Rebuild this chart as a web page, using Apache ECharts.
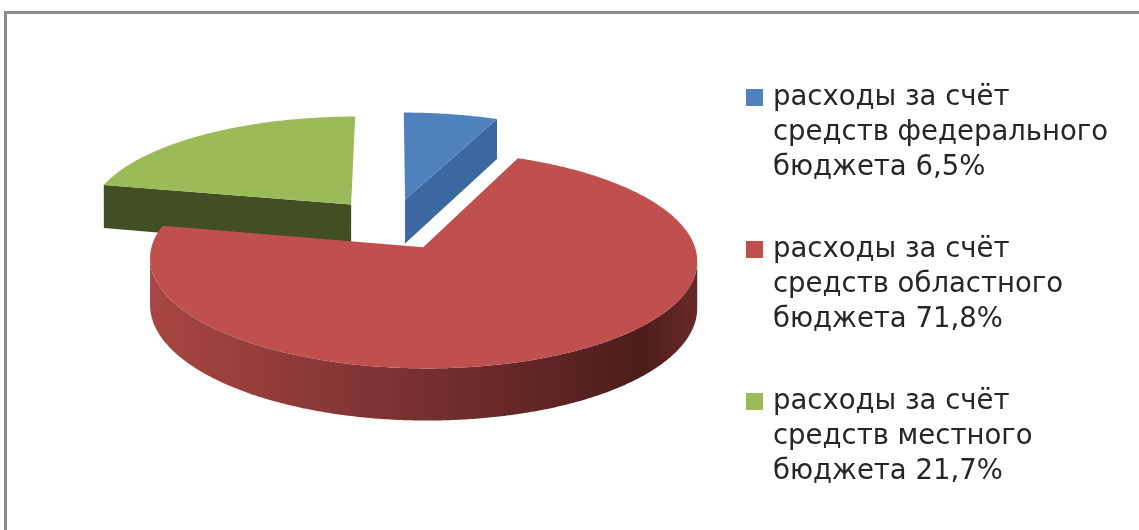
<!DOCTYPE html>
<html>
<head>
<meta charset="utf-8">
<script src="https://cdn.jsdelivr.net/npm/echarts@6/dist/echarts.min.js"></script>
<style>
html, body { margin: 0; padding: 0; background: #fff; }
#main { width: 1139px; height: 530px; }
</style>
</head>
<body>
<div id="main"></div>
<script>
// данные диаграммы
var categories = [
	'расходы за счёт\nсредств федерального\nбюджета',
	'расходы за счёт\nсредств областного\nбюджета',
	'расходы за счёт\nсредств местного\nбюджета'
];
var shares = [6.5, 71.8, 21.7];

// цвета: верх, срез, боковина
var topColors = ['#4F81BD', '#C0504D', '#9BBB59'];
var cutColors = ['#3C68A2', '#8E3A38', '#424F25'];
var rimColors = [
	['#3E6BA6', '#2C4D78'],
	['#A84643', '#4C1D1C'],
	['#55692E', '#3A4720']
];

// геометрия псевдо-3D круга
var CX = 392, CY = 224, RX = 265, RY = 102, DEPTH = 45, PERSP = 0.112, EXPLODE = 0.25;

function rad(d) { return d * Math.PI / 180; }
function proj(u, w, down) {
	var s = 1 / (1 + PERSP * w);
	return [CX + u * RX * s, CY - w * RY * s + down * s];
}
// видна ли вертикальная грань с нормалью (nu,nw) в точке (u,w)
function facing(nu, nw, u, w, eps) {
	return nu * (-u) + nw * (-1 / PERSP - w) > (eps || 0);
}

var total = 0;
for (var i = 0; i < shares.length; i++) total += shares[i];
var startAngles = [], endAngles = [];
var acc = 0;
for (var i = 0; i < shares.length; i++) {
	startAngles[i] = acc / total * 360;
	acc += shares[i];
	endAngles[i] = acc / total * 360;
}

function labelOf(i) {
	return categories[i] + ' ' + String(shares[i]).replace('.', ',') + '%';
}

function renderSlice(i) {
	var a0 = startAngles[i], a1 = endAngles[i], mid = (a0 + a1) / 2;
	var eu = EXPLODE * Math.sin(rad(mid)), ew = EXPLODE * Math.cos(rad(mid));
	var children = [];

	// внешняя боковина
	var n = Math.max(2, Math.ceil((a1 - a0) / 0.5));
	var runs = [], run = null;
	for (var k = 0; k <= n; k++) {
		var t = a0 + (a1 - a0) * k / n;
		var su = Math.sin(rad(t)), sw = Math.cos(rad(t));
		var u = eu + su, w = ew + sw;
		if (facing(su, sw, u, w)) {
			if (!run) { run = []; runs.push(run); }
			run.push([u, w]);
		} else {
			run = null;
		}
	}
	runs.forEach(function(r) {
		if (r.length < 2) return;
		var pts = [];
		for (var k = 0; k < r.length; k++) pts.push(proj(r[k][0], r[k][1], 0));
		for (var k = r.length - 1; k >= 0; k--) pts.push(proj(r[k][0], r[k][1], DEPTH));
		children.push({
			type: 'polygon',
			shape: { points: pts },
			style: {
				fill: new echarts.graphic.LinearGradient(0, 0, 1, 0, [
					{ offset: 0, color: rimColors[i][0] },
					{ offset: 0.55, color: echarts.color.lerp(0.6, rimColors[i]) },
					{ offset: 0.9, color: rimColors[i][1] },
					{ offset: 1, color: echarts.color.lerp(0.7, rimColors[i]) }
				])
			}
		});
	});

	// радиальные срезы (почти ребром не рисуем)
	[[a0, a0 - 90], [a1, a1 + 90]].forEach(function(e) {
		var su = Math.sin(rad(e[0])), sw = Math.cos(rad(e[0]));
		var nu = Math.sin(rad(e[1])), nw = Math.cos(rad(e[1]));
		if (!facing(nu, nw, eu + su * 0.5, ew + sw * 0.5, 0.5)) return;
		children.push({
			type: 'polygon',
			shape: { points: [
				proj(eu, ew, 0), proj(eu + su, ew + sw, 0),
				proj(eu + su, ew + sw, DEPTH), proj(eu, ew, DEPTH)
			] },
			style: { fill: cutColors[i] }
		});
	});

	// верхняя грань
	var top = [proj(eu, ew, 0)];
	for (var k = 0; k <= n; k++) {
		var t = a0 + (a1 - a0) * k / n;
		top.push(proj(eu + Math.sin(rad(t)), ew + Math.cos(rad(t)), 0));
	}
	children.push({
		type: 'polygon',
		shape: { points: top },
		style: { fill: topColors[i] }
	});

	return { type: 'group', children: children };
}

var myChart = echarts.init(document.getElementById('main'));
var option = {
	backgroundColor: '#ffffff',
	animation: false,
	graphic: [{
		type: 'rect',
		silent: true,
		z: -10,
		shape: { x: 5.5, y: 12.5, width: 1200, height: 600 },
		style: { fill: null, stroke: '#8A8A8A', lineWidth: 3 }
	}],
	legend: {
		orient: 'vertical',
		left: 746,
		top: 10,
		padding: 0,
		itemWidth: 17,
		itemHeight: 17,
		itemGap: -23,
		icon: 'rect',
		selectedMode: false,
		data: categories.map(function(c, i) { return labelOf(i); }),
		// две пустые строки сверху: значок встаёт напротив первой строки
		formatter: function(name) { return '\n\n' + name; },
		textStyle: {
			fontFamily: 'DejaVu Sans',
			fontSize: 27.5,
			lineHeight: 35,
			color: '#262626',
			padding: [0, 0, 0, 5]
		}
	},
	series: categories.map(function(c, i) {
		var mid = (startAngles[i] + endAngles[i]) / 2;
		return {
			type: 'custom',
			name: labelOf(i),
			coordinateSystem: 'none',
			z: 2 + Math.round((1 - Math.cos(rad(mid))) * 5),
			itemStyle: { color: topColors[i] },
			data: [[shares[i]]],
			renderItem: function(params, api) {
				return renderSlice(i);
			}
		};
	})
};
myChart.setOption(option);//渲染
</script>
</body>
</html>
